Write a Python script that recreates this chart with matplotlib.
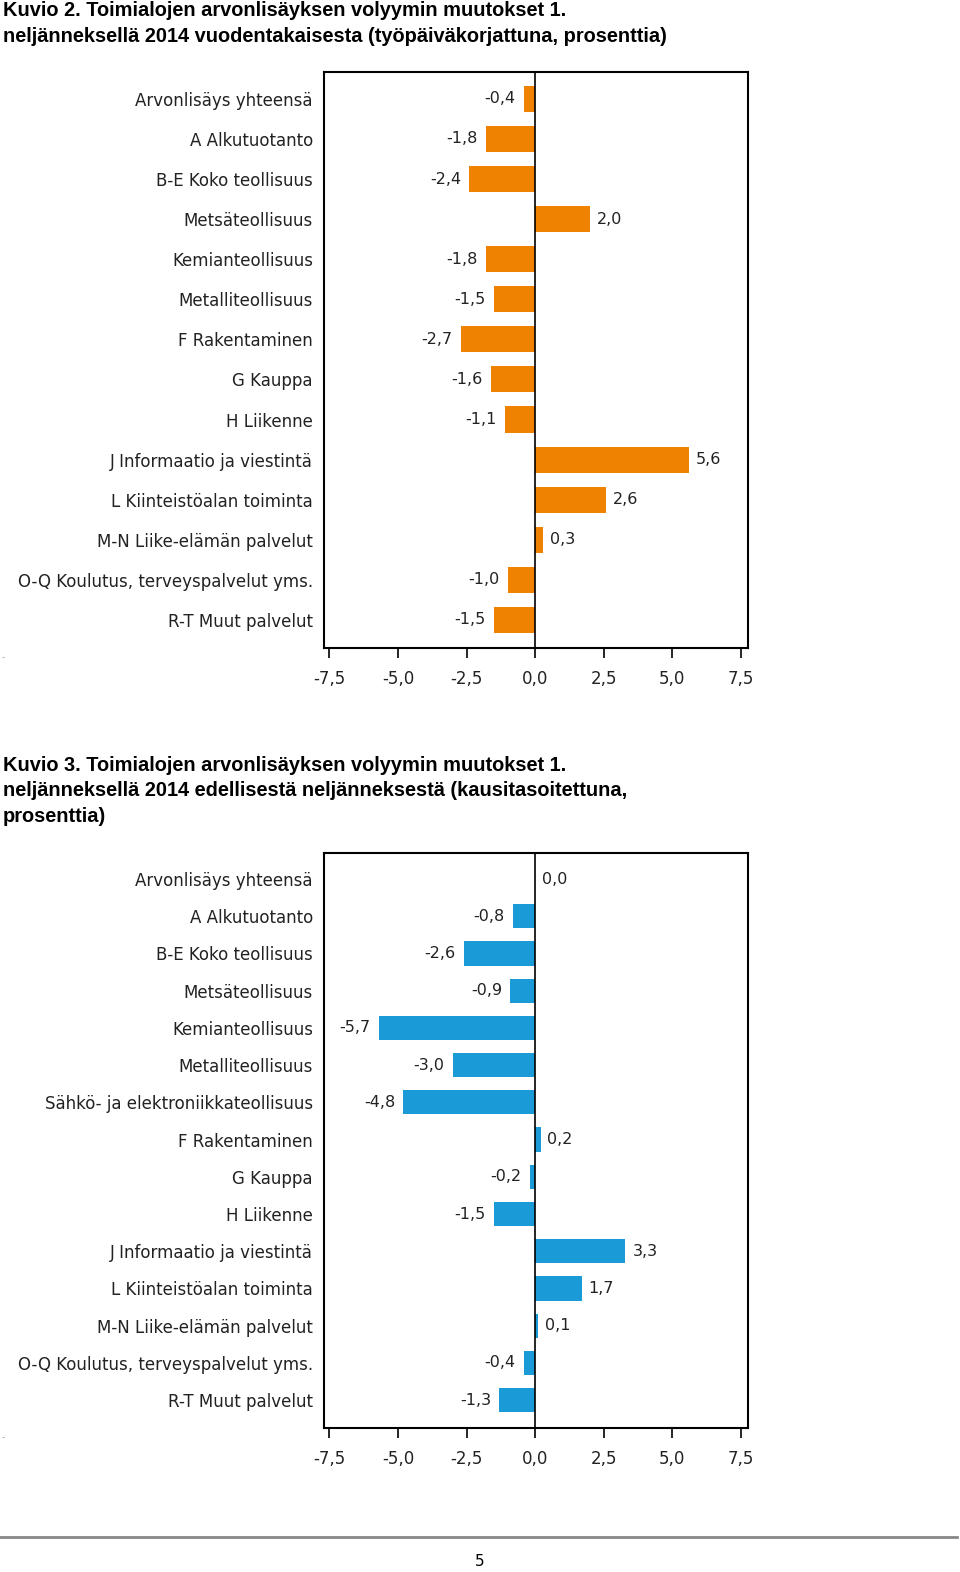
import matplotlib.pyplot as plt
import numpy as np

# data
labels_top = ['Arvonlisäys yhteensä', 'A Alkutuotanto', 'B-E Koko teollisuus', 'Metsäteollisuus',
              'Kemianteollisuus', 'Metalliteollisuus', 'F Rakentaminen', 'G Kauppa', 'H Liikenne',
              'J Informaatio ja viestintä', 'L Kiinteistöalan toiminta', 'M-N Liike-elämän palvelut',
              'O-Q Koulutus, terveyspalvelut yms.', 'R-T Muut palvelut']
values_top = [-0.4, -1.8, -2.4, 2.0, -1.8, -1.5, -2.7, -1.6, -1.1, 5.6, 2.6, 0.3, -1.0, -1.5]

labels_bot = ['Arvonlisäys yhteensä', 'A Alkutuotanto', 'B-E Koko teollisuus', 'Metsäteollisuus',
              'Kemianteollisuus', 'Metalliteollisuus', 'Sähkö- ja elektroniikkateollisuus',
              'F Rakentaminen', 'G Kauppa', 'H Liikenne', 'J Informaatio ja viestintä',
              'L Kiinteistöalan toiminta', 'M-N Liike-elämän palvelut',
              'O-Q Koulutus, terveyspalvelut yms.', 'R-T Muut palvelut']
values_bot = [0.0, -0.8, -2.6, -0.9, -5.7, -3.0, -4.8, 0.2, -0.2, -1.5, 3.3, 1.7, 0.1, -0.4, -1.3]

xticks = [-7.5, -5.0, -2.5, 0.0, 2.5, 5.0, 7.5]

title_top = ['Kuvio 2. Toimialojen arvonlisäyksen volyymin muutokset 1.',
             'neljänneksellä 2014 vuodentakaisesta (työpäiväkorjattuna, prosenttia)']
title_bot = ['Kuvio 3. Toimialojen arvonlisäyksen volyymin muutokset 1.',
             'neljänneksellä 2014 edellisestä neljänneksestä (kausitasoitettuna,',
             'prosenttia)']

W, H = 960, 1572


def fmt(v):
    return f'{v:.1f}'.replace('.', ',')


def draw(ax, labels, values, color, ylim):
    y = np.arange(len(labels))
    ax.barh(y, values, height=0.65, color=color)
    ax.axvline(0, color='black', lw=1.2)
    for yi, v in zip(y, values):
        if v < 0:
            ax.text(v - 0.3, yi, fmt(v), ha='right', va='center', fontsize=11.5, color='#222222')
        else:
            ax.text(v + 0.25, yi, fmt(v), ha='left', va='center', fontsize=11.5, color='#222222')
    ax.set_yticks(y)
    ax.set_yticklabels(labels, fontsize=12, color='#222222')
    ax.set_ylim(*ylim)
    ax.set_xlim(-7.7, 7.77)
    ax.set_xticks(xticks)
    ax.set_xticklabels([fmt(t) for t in xticks], fontsize=12, color='#222222')
    ax.tick_params(axis='y', length=0, pad=8)
    ax.tick_params(axis='x', direction='out', length=7, width=1.2, pad=9)
    for s in ax.spines.values():
        s.set_linewidth(1.5)


def title(lines, y0):
    for i, line in enumerate(lines):
        fig.text(3 / W, 1 - (y0 + 25 * i) / H, line, ha='left', va='center', fontsize=14.4,
                 family='Liberation Sans', weight='bold')


fig = plt.figure(figsize=(W / 100, H / 100), dpi=100)

ax1 = fig.add_axes([324 / W, 1 - 648 / H, 424 / W, 576 / H])
draw(ax1, labels_top, values_top, '#ef8200', (13.70, -0.67))

ax2 = fig.add_axes([324 / W, 1 - 1428 / H, 424 / W, 575 / H])
draw(ax2, labels_bot, values_bot, '#1a9ad6', (14.75, -0.70))

title(title_top, 11)
title(title_bot, 766)

fig.text(2 / W, 1 - 658 / H, '-', fontsize=6, color='#999999', va='center')
fig.text(2 / W, 1 - 1438 / H, '-', fontsize=6, color='#999999', va='center')

fig.add_artist(plt.Line2D([0, 957 / W], [1 - 1537 / H, 1 - 1537 / H], color='#888888', lw=2))
fig.text(480 / W, 1 - 1562 / H, '5', ha='center', va='center', fontsize=11)

plt.savefig('out.png', dpi=100)
